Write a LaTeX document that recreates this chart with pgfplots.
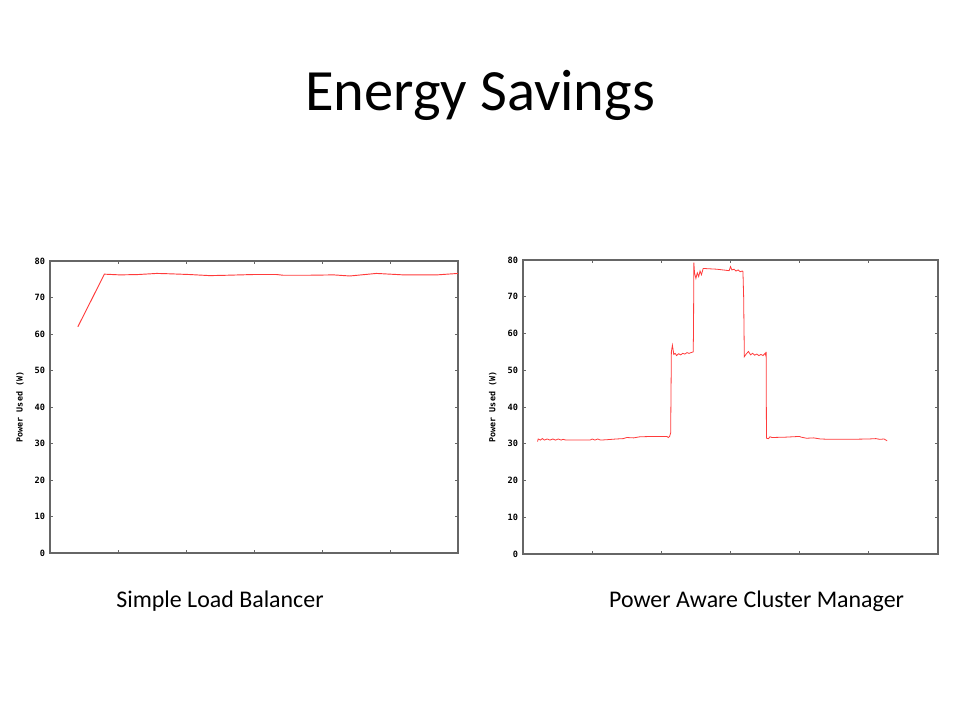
\documentclass[border=0pt]{standalone}
\usepackage{pgfplots}
\pgfplotsset{compat=1.18}
\usepackage{fontspec}
\setmainfont{Carlito}
\newfontfamily\gpfont{DejaVu Sans Mono}
\definecolor{gpred}{HTML}{FF3B3B}
\definecolor{gpframe}{HTML}{666666}
\pgfplotsset{gpstyle/.style={
  scale only axis, anchor=south west,
  xmin=0, xmax=6, ymin=0, ymax=80,
  xtick={1,2,3,4,5}, xticklabels={},
  ytick={0,10,...,80},
  tick align=inside, major tick length=2.5bp,
  axis line style={gpframe, line width=0.8bp},
  every tick/.style={gpframe, line width=0.6bp},
  /pgf/number format/assume math mode=true,
  yticklabel style={font=\gpfont\bfseries\fontsize{6.5}{7}\selectfont, inner sep=0pt, xshift=-3.5bp},
  ylabel={Power Used (W)},
  ylabel style={font=\gpfont\bfseries\fontsize{6.3}{7}\selectfont, at={(axis description cs:-0.0735,0.5)}, anchor=center},
}}
\begin{document}
\begin{tikzpicture}
\fill[white] (0,0) rectangle (720bp,-540bp);
\node[anchor=base, font=\fontsize{44}{52}\selectfont] at (360bp,-82.5bp) {Energy Savings};
\node[anchor=base, font=\fontsize{18}{22}\selectfont] at (165bp,-455.25bp) {Simple Load Balancer};
\node[anchor=base, font=\fontsize{18}{22}\selectfont] at (567.4bp,-455.25bp) {Power Aware Cluster Manager};
\begin{axis}[gpstyle, at={(37.5bp,-414.75bp)}, width=306bp, height=219bp]
\addplot[gpred, line width=0.7bp] coordinates {
(0.41,62.0) (0.80,76.4) (1.03,76.2) (1.30,76.3) (1.57,76.6) (1.76,76.5) (2.05,76.3) (2.35,76.0) (2.60,76.1) (2.99,76.3) (3.33,76.3) (3.43,76.1) (3.80,76.1) (4.17,76.2) (4.41,75.9) (4.80,76.6) (5.20,76.2) (5.69,76.2) (6.0,76.6)
};
\end{axis}
\begin{axis}[gpstyle, at={(392.25bp,-415.5bp)}, width=311.25bp, height=220.5bp,
  ylabel style={at={(axis description cs:-0.073,0.5)}}]
\addplot[gpred, line width=0.6bp] coordinates {
(0.21,30.6) (0.22,31.3) (0.25,31.0) (0.28,31.4) (0.31,31.0) (0.35,31.3) (0.39,31.0) (0.43,31.3) (0.47,31.0) (0.51,31.3) (0.55,31.0) (0.58,31.2) (0.62,31.0) (0.80,31.0) (0.97,31.0) (1.0,31.3) (1.04,31.0) (1.08,31.3) (1.12,31.0) (1.21,31.1) (1.35,31.3) (1.45,31.4) (1.5,31.7) (1.6,31.6) (1.69,31.9) (1.9,32.0) (2.08,32.0) (2.10,31.7) (2.12,32.0) (2.135,33.0) (2.145,55.0) (2.16,56.8) (2.18,54.3) (2.20,54.6) (2.22,54.0) (2.25,54.5) (2.28,54.2) (2.31,54.6) (2.34,54.4) (2.37,54.8) (2.40,54.6) (2.46,55.0) (2.465,60) (2.47,79.3) (2.48,76.5) (2.50,75.0) (2.52,76.5) (2.54,75.5) (2.56,77.0) (2.58,76.0) (2.605,77.7) (2.8,77.5) (2.98,77.1) (3.00,78.2) (3.02,77.3) (3.05,77.5) (3.08,77.0) (3.11,77.3) (3.14,76.8) (3.17,77.0) (3.18,76.8) (3.19,70) (3.20,53.7) (3.23,54.5) (3.26,55.1) (3.29,54.2) (3.32,54.6) (3.35,54.1) (3.38,54.4) (3.41,54.0) (3.44,54.3) (3.47,54.0) (3.50,54.6) (3.51,54.0) (3.515,55.0) (3.52,31.5) (3.55,31.4) (3.57,31.9) (3.60,31.7) (3.8,31.8) (4.0,32.0) (4.02,31.8) (4.1,31.5) (4.2,31.6) (4.3,31.3) (4.44,31.2) (4.7,31.2) (5.0,31.3) (5.1,31.4) (5.16,31.2) (5.22,31.3) (5.265,30.8)
};
\end{axis}
\end{tikzpicture}
\end{document}
